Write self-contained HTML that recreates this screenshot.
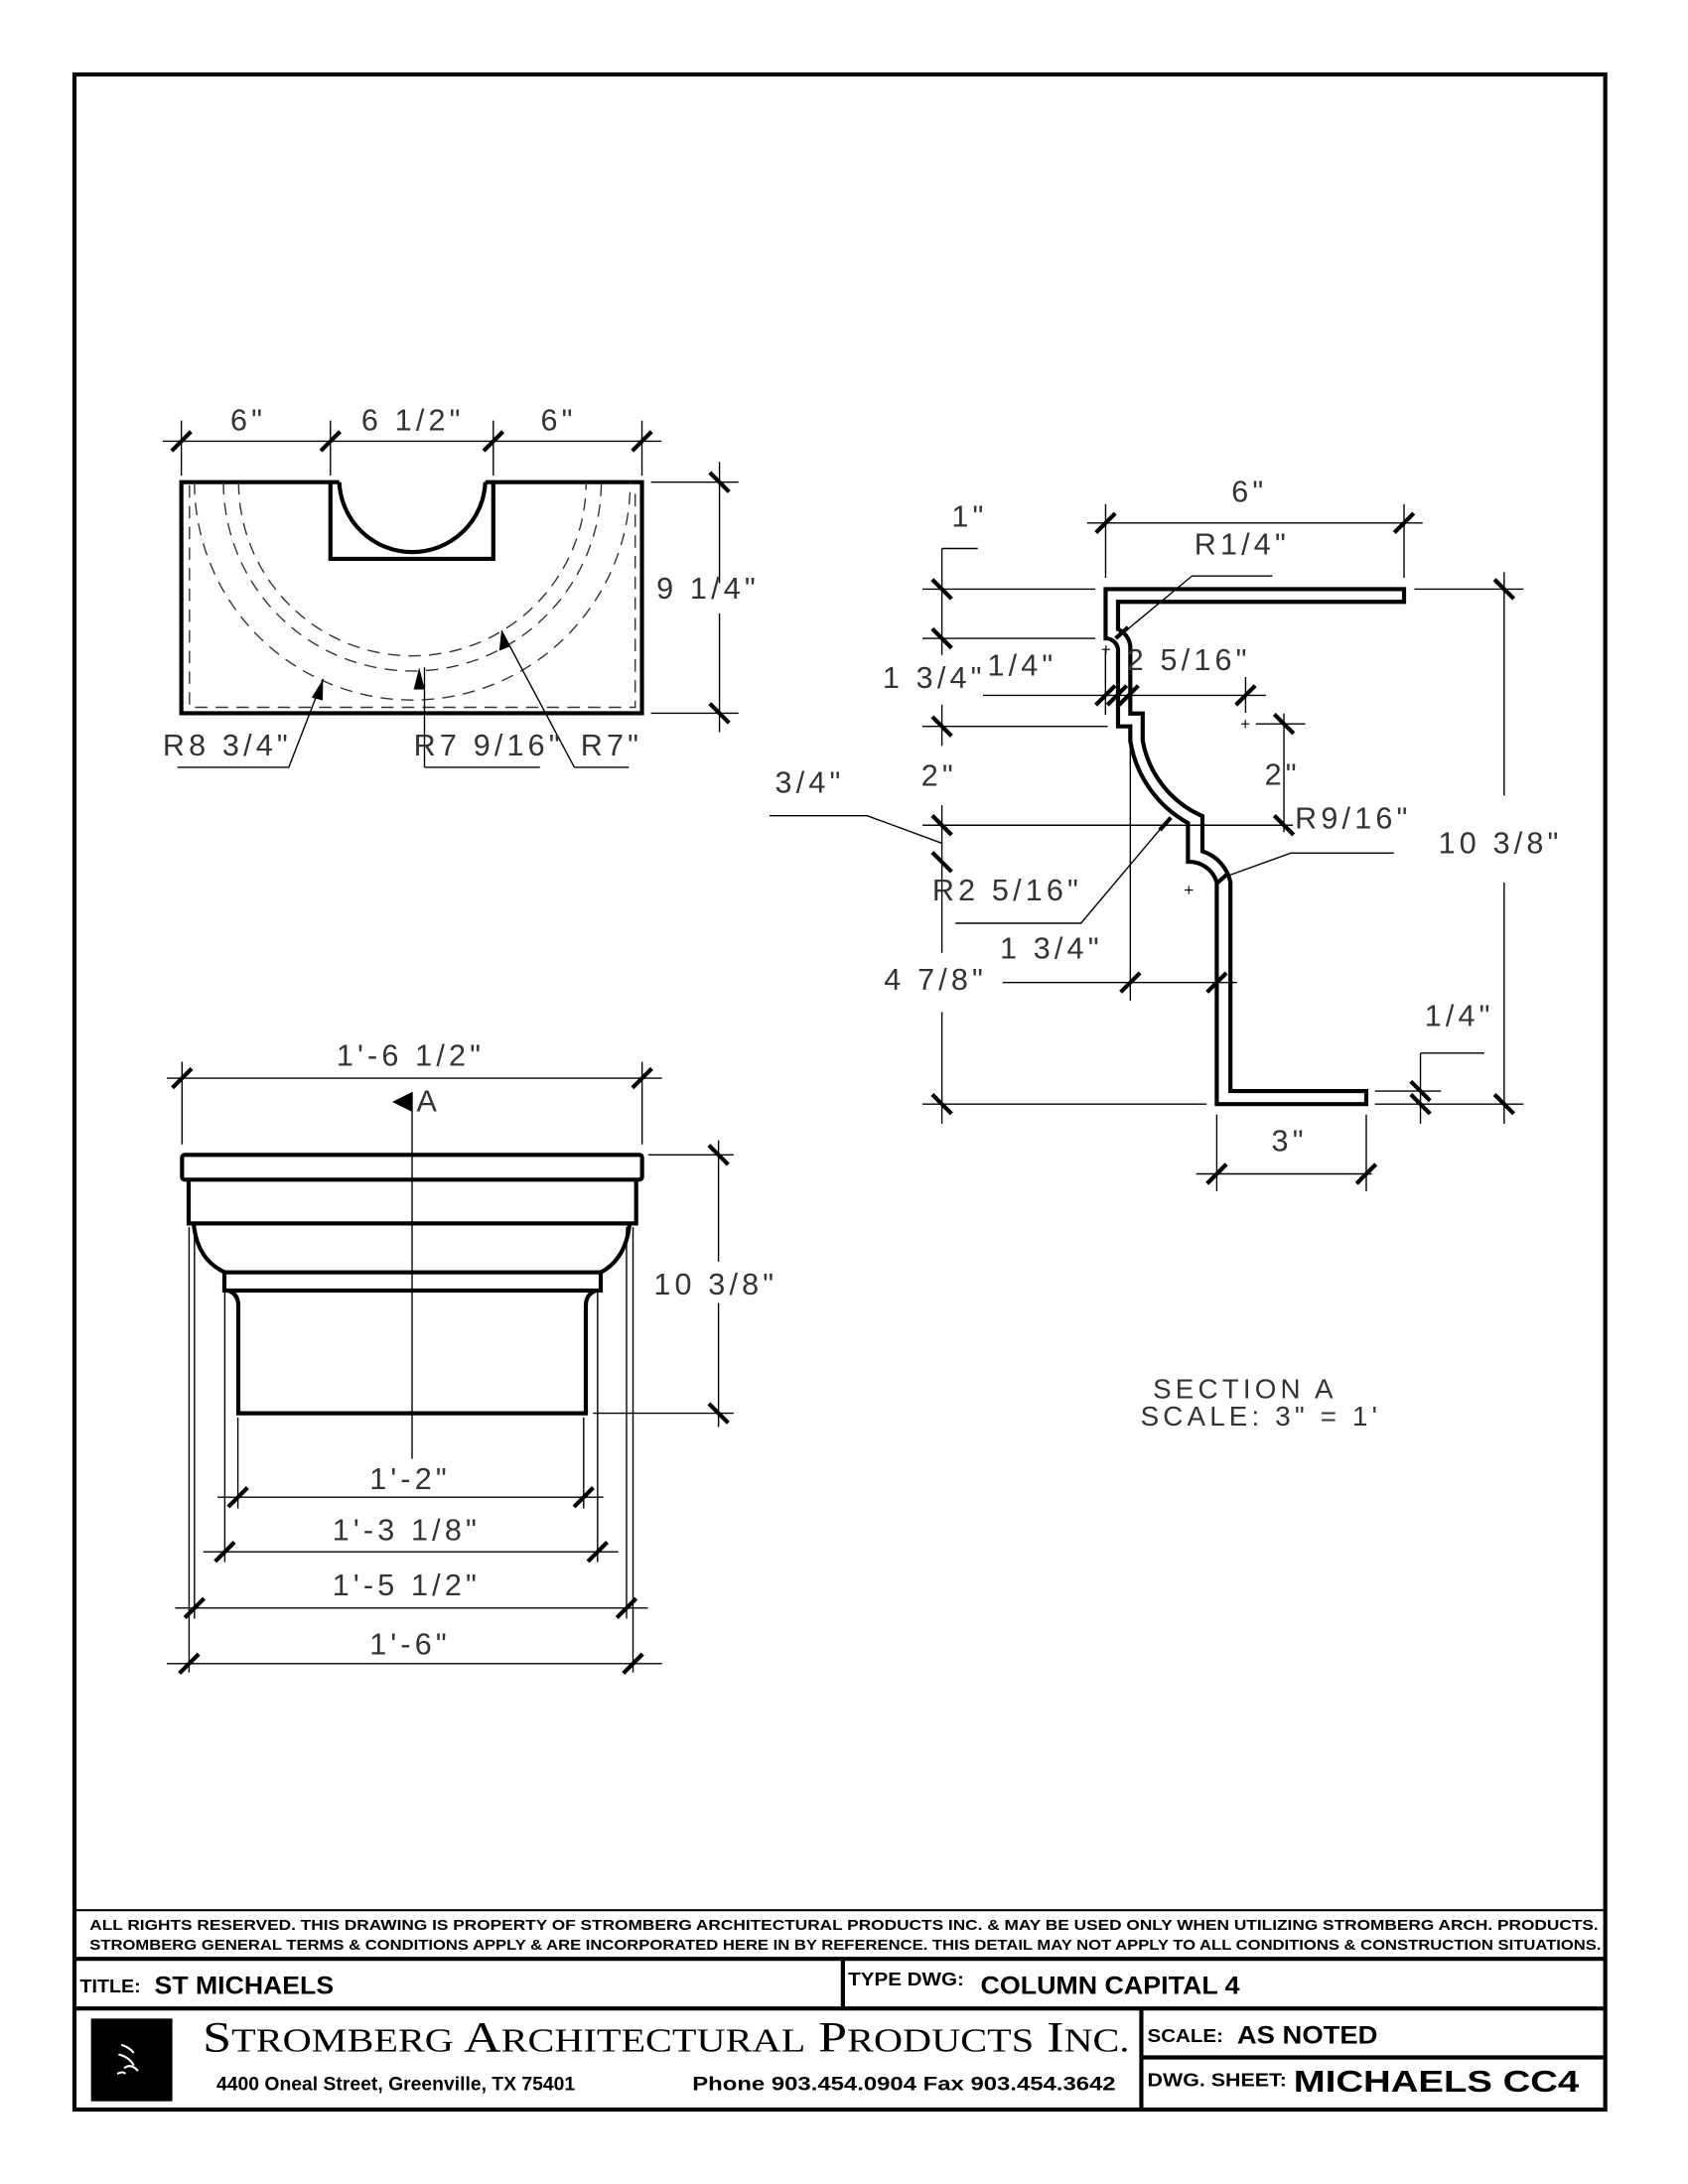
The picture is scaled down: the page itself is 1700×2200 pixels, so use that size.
<!DOCTYPE html>
<html><head><meta charset="utf-8"><style>
html,body{margin:0;padding:0;background:#fff;}
svg{display:block;}
.t{font-family:"Liberation Sans",sans-serif;font-size:22px;fill:#333;letter-spacing:3px;}
.b{font-family:"Liberation Sans",sans-serif;font-weight:bold;fill:#000;}
</style></head><body>
<svg width="1700" height="2200" viewBox="0 0 1224 1584" xmlns="http://www.w3.org/2000/svg">
<rect width="1224" height="1584" fill="#fff"/>
<rect x="54" y="54" width="1110" height="1476" fill="none" stroke="#000" stroke-width="3"/>

<g stroke="#000" fill="none" stroke-width="1">
<path d="M131.5,349.7 H239.6 V405.3 H357.7 V349.7 H465.5 V517.3 H131.5 Z" stroke-width="3"/>
<path d="M246,349.7 A53,53 0 0 0 351.9,349.7" stroke-width="3"/>
<path d="M239.6,349.7 H246 M351.9,349.7 H357.7" stroke-width="3"/>
<g stroke-dasharray="9,6" stroke="#333">
<path d="M141,349.7 A158,158 0 0 0 457,349.7"/>
<path d="M162,349.7 A137,137 0 0 0 436,349.7"/>
<path d="M173,349.7 A126,126 0 0 0 425,349.7"/>
<path d="M137.4,352 V513 H460.6 V352"/>
</g>
<path d="M118,320 H479.7"/>
<path d="M131.5,305 V345 M239.6,305 V345 M357.7,305 V345 M465.5,305 V345"/>
<g stroke-width="3">
<path d="M124.5,327 L138.5,313 M232.6,327 L246.6,313 M350.7,327 L364.7,313 M458.5,327 L472.5,313"/>
</g>
<path d="M521.7,335 V423 M521.7,445 V531 M472,349.7 H535.5 M472,517.3 H535.5"/>
<path d="M514.7,342.7 L528.7,356.7 M514.7,510.3 L528.7,524.3" stroke-width="3"/>
<path d="M128.6,556.5 H209.4 L234.3,492.4"/>
<path d="M307.8,556.5 H391.5 M307.8,556.5 V484"/>
<path d="M416.5,556.5 H456 M416.5,556.5 L363.6,457.3"/>
</g>
<g fill="#000">
<polygon points="234.3,492.4 226,506 234,508"/>
<polygon points="304,484 300,500 308,500"/>
<polygon points="363.6,457.3 362,472 369.5,469"/>
</g>
<text class="t" x="167" y="312">6"</text>
<text class="t" x="262" y="312">6 1/2"</text>
<text class="t" x="392" y="312">6"</text>
<text class="t" x="476" y="434">9 1/4"</text>
<text class="t" x="118" y="548">R8 3/4"</text>
<text class="t" x="300" y="548">R7 9/16"</text>
<text class="t" x="421" y="548">R7"</text>

<g stroke="#000" fill="none" stroke-width="3" stroke-linejoin="miter">
<path d="M801.7,427.3 H1018.1 V436.5 H810.7 V456.4 A15,15 0 0 1 819.6,471.2 V517.5 H828.6 V537.3 A74,74 0 0 0 871.9,591.9 V617.4 A30,30 0 0 1 892.2,639.8 V791.3 H990.7 V800.8 H882.3 V639.8 A21,21 0 0 0 861.4,625 V596.9 A83,83 0 0 1 819.6,537.3 V526.8 H810.7 V471.2 A9,9 0 0 0 801.7,463 Z"/>
</g>
<g stroke="#000" fill="none" stroke-width="1">
<path d="M788.3,379.3 H1031.6 M801.7,365.6 V419 M1018.1,365.6 V419"/>
<path d="M922.6,417.7 H864.4 L813.7,459.7"/>
<path d="M683,397.8 H709 M683,397.8 V475 M683,511 V541 M683,584 V691 M683,734 V815"/>
<path d="M668.9,427.3 H794.3 M668.9,463 H794.3 M668.9,526.8 H803.2 M668.9,598.5 H937.5 M668.9,800.8 H874.9 M997,800.8 H1104.7"/>
<path d="M558,591.6 H628.8 L682.8,611.5"/>
<path d="M712.8,504.3 H918 M903.2,491 V517"/>
<path d="M801.6,470.4 V518.4"/>
<path d="M931,517.5 V603.5 M910.7,525 H946.5"/>
<path d="M1010.7,618.7 H936 L886.8,636.5"/>
<path d="M692.8,669.6 H783.8 L845,596.9"/>
<path d="M727,712.6 H897 M819.6,526.8 V725.8"/>
<path d="M1090.7,415 V577 M1090.7,640 V815 M1025.6,427.3 H1104.7"/>
<path d="M1030,763.8 V815 M1030,763.8 H1076.3 M997,791.3 H1045"/>
<path d="M867.4,851.4 H994.7 M882.3,808.4 V864 M990.7,808.4 V864"/>
<path d="M799,471 H805 M802,468 V474 M900,525 H906 M903,522 V528 M859,645.5 H865 M862,642.5 V648.5" stroke-width="0.8"/>
</g>
<g stroke="#000" stroke-width="3">
<path d="M794.7,386.3 L808.7,372.3 M1011.1,386.3 L1025.1,372.3"/>
<path d="M676,420.3 L690,434.3 M676,456 L690,470 M676,519.8 L690,533.8 M676,591.5 L690,605.5 M676,618.2 L690,632.2 M676,793.8 L690,807.8"/>
<path d="M794.6,511.3 L808.6,497.3 M803,511.3 L817,497.3 M811.4,511.3 L825.4,497.3 M896.2,511.3 L910.2,497.3"/>
<path d="M924,518 L938,532 M924,591.5 L938,605.5"/>
<path d="M1083.7,420.3 L1097.7,434.3 M1083.7,793.8 L1097.7,807.8"/>
<path d="M1023,784.3 L1037,798.3 M1023,793.8 L1037,807.8"/>
<path d="M812.6,719.6 L826.6,705.6 M875.3,719.6 L889.3,705.6"/>
<path d="M875.3,858.4 L889.3,844.4 M983.7,858.4 L997.7,844.4"/>
<path d="M809,463 L818,455 M882,641 L891,633 M841,602 L849,593"/>
</g>
<text class="t" x="893" y="364">6"</text>
<text class="t" x="866" y="402">R1/4"</text>
<text class="t" x="690" y="382">1"</text>
<text class="t" x="640" y="499">1 3/4"</text>
<text class="t" x="716" y="490">1/4"</text>
<text class="t" x="817" y="486">2 5/16"</text>
<text class="t" x="668" y="570">2"</text>
<text class="t" x="917" y="569">2"</text>
<text class="t" x="562" y="575">3/4"</text>
<text class="t" x="939" y="601">R9/16"</text>
<text class="t" x="676" y="653">R2 5/16"</text>
<text class="t" x="725" y="695">1 3/4"</text>
<text class="t" x="641" y="718">4 7/8"</text>
<text class="t" x="1043" y="619">10 3/8"</text>
<text class="t" x="1033" y="744">1/4"</text>
<text class="t" x="922" y="835">3"</text>
<text class="t" x="836" y="1014" style="font-size:20px">SECTION  A</text>
<text class="t" x="827" y="1034" style="font-size:20px">SCALE: 3" = 1'</text>

<g stroke="#000" fill="none" stroke-width="3">
<rect x="132" y="837.6" width="333.6" height="18" rx="2"/>
<path d="M136.8,855.6 V887.3 H461.3 V855.6"/>
<path d="M140.4,887.3 C142,905 150,917 163.2,922.8 M456.5,887.3 C455,905 447,917 435.6,922.8"/>
<rect x="162.7" y="922.8" width="272.9" height="13.2"/>
<path d="M165.6,936 C171,938 172.8,942 172.8,946.8 V1025 H424.8 V946.8 C424.8,942 427,938 432,936"/>
</g>
<g stroke="#000" fill="none" stroke-width="1">
<path d="M121,782 H480 M132,770 V830 M465.6,770 V830"/>
<path d="M298.8,792 V1058"/>
<path d="M137.1,890 V1213 M141,890 V1174 M163,936 V1133 M172.5,1028 V1094 M423.2,1028 V1094 M433.3,936 V1133 M454.3,890 V1174 M459,890 V1213"/>
<path d="M157.7,1085.9 H437.5 M147.4,1125.5 H448.3 M127,1166.3 H469.8 M121,1206.6 H480"/>
<path d="M521,827 V915 M521,945 V1035 M470,837.6 H532 M430,1025 H532"/>
</g>
<polygon points="284.4,799.2 298.8,792 298.8,806.4" fill="#000"/>
<g stroke="#000" stroke-width="3">
<path d="M125,789 L139,775 M458.6,789 L472.6,775"/>
<path d="M165.5,1092.9 L179.5,1078.9 M416.2,1092.9 L430.2,1078.9"/>
<path d="M156,1132.5 L170,1118.5 M426.3,1132.5 L440.3,1118.5"/>
<path d="M134,1173.3 L148,1159.3 M447.3,1173.3 L461.3,1159.3"/>
<path d="M130.1,1213.6 L144.1,1199.6 M452,1213.6 L466,1199.6"/>
<path d="M514,830.6 L528,844.6 M514,1018 L528,1032"/>
</g>
<text class="t" x="244" y="773">1'-6 1/2"</text>
<text class="t" x="302" y="806" style="letter-spacing:0">A</text>
<text class="t" x="474" y="939">10 3/8"</text>
<text class="t" x="268" y="1080">1'-2"</text>
<text class="t" x="241" y="1117">1'-3 1/8"</text>
<text class="t" x="241" y="1157">1'-5 1/2"</text>
<text class="t" x="268" y="1200">1'-6"</text>

<g stroke="#000" fill="none">
<path d="M54,1385.4 H1164" stroke-width="1.5"/>
<path d="M54,1420.7 H1164 M54,1456.7 H1164" stroke-width="3"/>
<path d="M611.2,1420.7 V1456.7 M827.6,1456.7 V1530 M827.6,1492.2 H1164" stroke-width="3"/>
</g>
<text class="b" x="65" y="1399.6" font-size="10.5" textLength="1094" lengthAdjust="spacingAndGlyphs">ALL RIGHTS RESERVED. THIS DRAWING IS PROPERTY OF STROMBERG ARCHITECTURAL PRODUCTS INC. &amp; MAY BE USED ONLY WHEN UTILIZING STROMBERG ARCH. PRODUCTS.</text>
<text class="b" x="65" y="1414" font-size="10.5" textLength="1096" lengthAdjust="spacingAndGlyphs">STROMBERG GENERAL TERMS &amp; CONDITIONS APPLY &amp; ARE INCORPORATED HERE IN BY REFERENCE. THIS DETAIL MAY NOT APPLY TO ALL CONDITIONS &amp; CONSTRUCTION SITUATIONS.</text>
<text class="b" x="58" y="1445" font-size="13" textLength="44" lengthAdjust="spacingAndGlyphs">TITLE:</text>
<text class="b" x="112" y="1446" font-size="18" textLength="130" lengthAdjust="spacingAndGlyphs">ST MICHAELS</text>
<text class="b" x="615" y="1440" font-size="13" textLength="84" lengthAdjust="spacingAndGlyphs">TYPE DWG:</text>
<text class="b" x="711" y="1446" font-size="18" textLength="188" lengthAdjust="spacingAndGlyphs">COLUMN CAPITAL 4</text>
<rect x="66" y="1464" width="59" height="60" fill="#000"/>
<path d="M88,1483 q6,2 9,6 M86,1490 q8,2 11,8 M90,1500 q5,-4 10,2 M85,1504 q4,-2 6,0" stroke="#fff" stroke-width="1.5" fill="none"/>
<text font-family="Liberation Serif,serif" fill="#000" x="147" y="1488" font-size="31" textLength="672" lengthAdjust="spacingAndGlyphs">S<tspan font-size="24">TROMBERG</tspan> A<tspan font-size="24">RCHITECTURAL</tspan> P<tspan font-size="24">RODUCTS</tspan> I<tspan font-size="24">NC.</tspan></text>
<text class="b" x="157" y="1516" font-size="14" textLength="260" lengthAdjust="spacingAndGlyphs">4400 Oneal Street, Greenville, TX  75401</text>
<text class="b" x="502" y="1516" font-size="14" textLength="307" lengthAdjust="spacingAndGlyphs">Phone 903.454.0904   Fax 903.454.3642</text>
<text class="b" x="832" y="1481" font-size="13" textLength="55" lengthAdjust="spacingAndGlyphs">SCALE:</text>
<text class="b" x="897" y="1482" font-size="18" textLength="102" lengthAdjust="spacingAndGlyphs">AS NOTED</text>
<text class="b" x="832" y="1513" font-size="13" textLength="101" lengthAdjust="spacingAndGlyphs">DWG. SHEET:</text>
<text class="b" x="938" y="1517" font-size="22" textLength="207" lengthAdjust="spacingAndGlyphs">MICHAELS CC4</text>
</svg>
</body></html>
